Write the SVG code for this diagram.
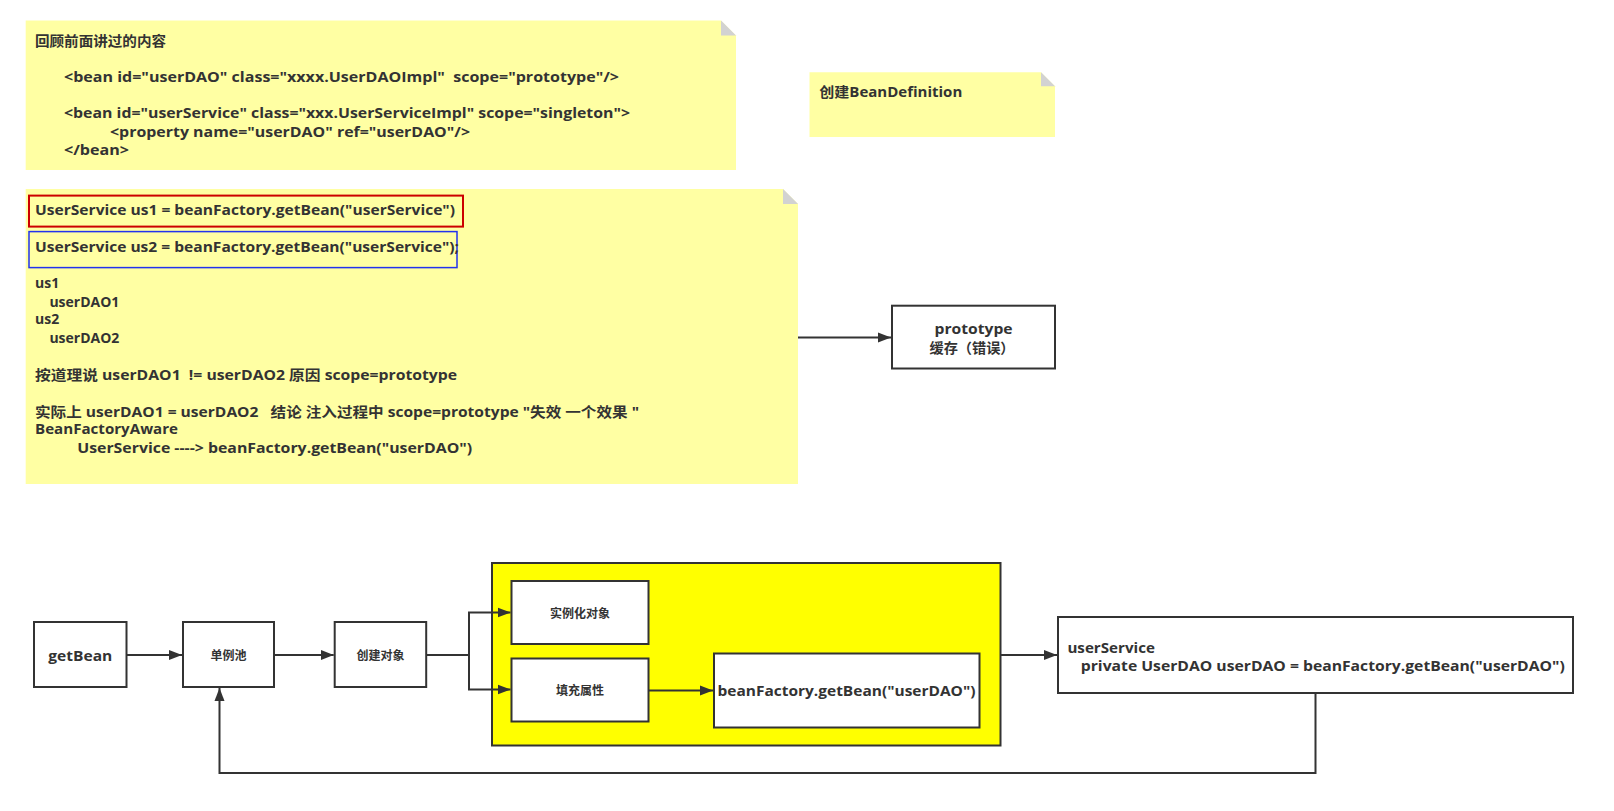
<svg xmlns="http://www.w3.org/2000/svg" width="1614" height="811" viewBox="0 0 1614 811">
<style>
.note{fill:#FFFFA3;}
.fold{fill:#D2D2D2;}
.t{font-family:"Open Sans","Noto Sans CJK SC",sans-serif;font-weight:bold;font-size:14px;fill:#333;}
.cjk{font-family:"Noto Sans CJK SC","Open Sans",sans-serif;font-weight:bold;fill:#333;}
.s{font-size:12px;}
.box{fill:#fff;stroke:#333;stroke-width:2;}
.con{fill:none;stroke:#333;stroke-width:2;}
.mid{text-anchor:middle;}
</style>
<defs>
<marker id="arr" markerUnits="userSpaceOnUse" markerWidth="14" markerHeight="11" refX="13" refY="5.5" orient="auto">
<path d="M0,0.5 L13,5.5 L0,10.5 z" fill="#333"/>
</marker>
</defs>
<rect width="1614" height="811" fill="#fff"/>

<g id="note1">
<polygon class="note" points="25.7,20.6 721,20.6 736,35.6 736,170 25.7,170"/>
<polygon class="fold" points="721,20.6 721,35.6 736,35.6"/>
<text class="cjk" x="35" y="46" font-size="14" textLength="131" lengthAdjust="spacingAndGlyphs">回顾前面讲过的内容</text>
<text class="t" x="64" y="82" textLength="555" lengthAdjust="spacingAndGlyphs" xml:space="preserve">&lt;bean id="userDAO" class="xxxx.UserDAOImpl"  scope="prototype"/&gt;</text>
<text class="t" x="64" y="118" textLength="566" lengthAdjust="spacingAndGlyphs">&lt;bean id="userService" class="xxx.UserServiceImpl" scope="singleton"&gt;</text>
<text class="t" x="110" y="137" textLength="360" lengthAdjust="spacingAndGlyphs">&lt;property name="userDAO" ref="userDAO"/&gt;</text>
<text class="t" x="64" y="155" textLength="65" lengthAdjust="spacingAndGlyphs">&lt;/bean&gt;</text>
</g>

<g id="note2">
<polygon class="note" points="809.5,72.3 1041,72.3 1055,86.3 1055,137 809.5,137"/>
<polygon class="fold" points="1041,72.3 1041,86.3 1055,86.3"/>
<text class="t" x="819.3" y="96.7" textLength="143" lengthAdjust="spacingAndGlyphs">创建BeanDefinition</text>
</g>

<g id="note3">
<polygon class="note" points="25.7,189 783,189 798,204 798,484 25.7,484"/>
<polygon class="fold" points="783,189 783,204 798,204"/>
<rect x="29" y="195.6" width="434" height="31" fill="none" stroke="#CC0000" stroke-width="2"/>
<rect x="29" y="231.6" width="428" height="36" fill="none" stroke="#2233EE" stroke-width="1.5"/>
<text class="t" x="35" y="215" textLength="420" lengthAdjust="spacingAndGlyphs">UserService us1 = beanFactory.getBean("userService")</text>
<text class="t" x="35" y="252" textLength="424" lengthAdjust="spacingAndGlyphs">UserService us2 = beanFactory.getBean("userService");</text>
<text class="t" x="35" y="288">us1</text>
<text class="t" x="49.4" y="306.6">userDAO1</text>
<text class="t" x="35" y="324">us2</text>
<text class="t" x="49.4" y="342.6">userDAO2</text>
<text class="t" x="35" y="379.7" textLength="422" lengthAdjust="spacingAndGlyphs" xml:space="preserve">按道理说 userDAO1  != userDAO2 原因 scope=prototype</text>
<text class="t" x="35" y="416.7" textLength="604" lengthAdjust="spacingAndGlyphs" xml:space="preserve">实际上 userDAO1 = userDAO2   结论 注入过程中 scope=prototype "失效 一个效果 "</text>
<text class="t" x="35" y="434" textLength="143" lengthAdjust="spacingAndGlyphs">BeanFactoryAware</text>
<text class="t" x="77.2" y="452.7" textLength="395" lengthAdjust="spacingAndGlyphs">UserService ----&gt; beanFactory.getBean("userDAO")</text>
</g>

<g id="prototype">
<rect class="box" x="892" y="305.7" width="163" height="62.8"/>
<text class="t" x="934.6" y="334.4" textLength="78" lengthAdjust="spacingAndGlyphs">prototype</text>
<text class="cjk" x="929.5" y="353" font-size="14" textLength="85" lengthAdjust="spacingAndGlyphs">缓存（错误）</text>
</g>

<g id="getBean">
<rect class="box" x="34" y="622" width="92.5" height="65"/>
<text class="t mid" x="80.3" y="660.5" font-size="15" textLength="64" lengthAdjust="spacingAndGlyphs">getBean</text>
</g>

<g id="singletonPool">
<rect class="box" x="183" y="622" width="91" height="65"/>
<text class="cjk s mid" x="228.5" y="659.5">单例池</text>
</g>

<g id="createObject">
<rect class="box" x="334.7" y="622" width="91.5" height="65"/>
<text class="cjk s mid" x="380.5" y="659.5">创建对象</text>
</g>

<g id="yellowGroup">
<rect x="492" y="563" width="508.5" height="182.5" fill="#FFFF00" stroke="#333" stroke-width="2"/>
</g>

<g id="instantiate">
<rect class="box" x="511.5" y="581" width="137" height="63"/>
<text class="cjk s mid" x="580" y="617.5">实例化对象</text>
</g>

<g id="populate">
<rect class="box" x="511.5" y="658.5" width="137" height="63"/>
<text class="cjk s mid" x="580" y="695">填充属性</text>
</g>

<g id="getBeanDAO">
<rect class="box" x="714" y="653.5" width="265.5" height="74"/>
<text class="t mid" x="846.5" y="695.5" font-size="15" textLength="258" lengthAdjust="spacingAndGlyphs">beanFactory.getBean("userDAO")</text>
</g>

<g id="userService">
<rect class="box" x="1058" y="617" width="515" height="76"/>
<text class="t" x="1067.4" y="652.5" textLength="87.5" lengthAdjust="spacingAndGlyphs">userService</text>
<text class="t" x="1080.8" y="671" textLength="484" lengthAdjust="spacingAndGlyphs">private UserDAO userDAO = beanFactory.getBean("userDAO")</text>
</g>

<g id="connectors">
<path class="con" d="M798,337.6 L891,337.6" marker-end="url(#arr)"/>
<path class="con" d="M126.5,655 L182,655" marker-end="url(#arr)"/>
<path class="con" d="M274,655 L333.7,655" marker-end="url(#arr)"/>
<path class="con" d="M426.2,655 L469,655 L469,612.5 L510.5,612.5" marker-end="url(#arr)"/>
<path class="con" d="M469,655 L469,689.5 L510.5,689.5" marker-end="url(#arr)"/>
<path class="con" d="M648.5,690.5 L713,690.5" marker-end="url(#arr)"/>
<path class="con" d="M1000.5,655 L1057,655" marker-end="url(#arr)"/>
<path class="con" d="M1315.5,693 L1315.5,773 L219.5,773 L219.5,688" marker-end="url(#arr)"/>
</g>
</svg>
